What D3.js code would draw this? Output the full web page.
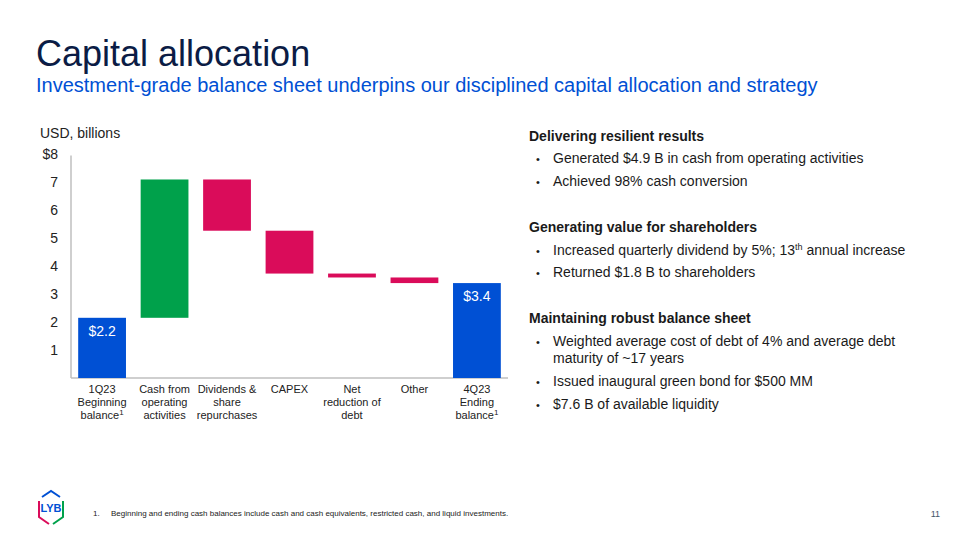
<!DOCTYPE html>
<html><head><meta charset="utf-8">
<script src="https://cdn.jsdelivr.net/npm/d3@7"></script>
<style>
html,body{margin:0;padding:0;background:#fff;}
svg{display:block;font-family:"Liberation Sans",Arial,sans-serif;}
</style></head>
<body>
<svg id="c" width="960" height="540"></svg>
<script>
// ---- data ----
const categories = ["1Q23 Beginning balance", "Cash from operating activities", "Dividends & share repurchases", "CAPEX", "Net reduction of debt", "Other", "4Q23 Ending balance"];
const categoryLines = [["1Q23","Beginning","balance"],["Cash from","operating","activities"],["Dividends &","share","repurchases"],["CAPEX"],["Net","reduction of","debt"],["Other"],["4Q23","Ending","balance"]];
const footnoteMarks = [true,false,false,false,false,false,true];
const values = [2.15, 4.94, -1.83, -1.53, -0.14, -0.2, 3.39];
const kinds = ["total","up","down","down","down","down","total"];
const valueLabels = ["$2.2", null, null, null, null, null, "$3.4"];
const yTicks = [1,2,3,4,5,6,7,8];
const yTickLabels = ["1","2","3","4","5","6","7","$8"];

const colors = {total:"#0050D4", up:"#00A14B", down:"#DA0C5A"};

const svg = d3.select("#c");

// ---- titles ----
svg.append("text").attr("x",36).attr("y",66).attr("font-size",36).attr("fill","#0B1C45").text("Capital allocation");
svg.append("text").attr("x",36).attr("y",92).attr("font-size",20).attr("fill","#0050D4").text("Investment-grade balance sheet underpins our disciplined capital allocation and strategy");

// ---- chart ----
const x = d3.scaleBand().domain(categories).range([71,508]).paddingInner(0.235).paddingOuter(0.115);
const y = d3.scaleLinear().domain([0,8]).range([378,154]);

// waterfall computation
let run = 0;
const bars = values.map((v,i)=>{
  let y0,y1;
  if(kinds[i]==="total"){ y0=0; y1=v; run=v; }
  else { y0=run; y1=run+v; run=y1; }
  return {cat:categories[i], lo:Math.min(y0,y1), hi:Math.max(y0,y1), kind:kinds[i], label:valueLabels[i]};
});

svg.append("text").attr("x",40).attr("y",138).attr("font-size",14).attr("fill","#222").text("USD, billions");

// axes lines
svg.append("line").attr("x1",71).attr("x2",71).attr("y1",y(7.95)).attr("y2",y(0)).attr("stroke","#BFBFBF").attr("stroke-width",1.5);
svg.append("line").attr("x1",71).attr("x2",508).attr("y1",y(0)).attr("y2",y(0)).attr("stroke","#BFBFBF").attr("stroke-width",1.5);

const yAxis = d3.axisLeft(y).tickValues(yTicks).tickFormat((d,i)=>yTickLabels[i]).tickSize(0).tickPadding(13);
const ga = svg.append("g").attr("transform","translate(71,0)").call(yAxis);
ga.select(".domain").remove();
ga.selectAll("text").attr("font-size",14).attr("fill","#222").attr("font-family","Liberation Sans, Arial, sans-serif");

svg.selectAll("rect.bar").data(bars).join("rect").attr("class","bar")
  .attr("x",d=>x(d.cat)).attr("width",x.bandwidth())
  .attr("y",d=>y(d.hi)).attr("height",d=>y(d.lo)-y(d.hi))
  .attr("fill",d=>colors[d.kind]);

svg.selectAll("text.vl").data(bars.filter(d=>d.label)).join("text").attr("class","vl")
  .attr("x",d=>x(d.cat)+x.bandwidth()/2).attr("y",d=>y(d.hi)+18)
  .attr("text-anchor","middle").attr("font-size",14).attr("fill","#fff").text(d=>d.label);

// category labels
categories.forEach((c,i)=>{
  const cx = x(c)+x.bandwidth()/2;
  const lines = categoryLines[i];
  const t = svg.append("text").attr("text-anchor","middle").attr("font-size",11).attr("fill","#222");
  lines.forEach((ln,j)=>{
    t.append("tspan").attr("x",cx).attr("y",393+j*13).text(ln);
    if(footnoteMarks[i] && j===lines.length-1){
      t.append("tspan").attr("font-size",8).attr("dy",-4).text("1");
    }
  });
});

// ---- right text ----
const rx = 529, bx = 536, tx = 553;
const rt = [
  {h:"Delivering resilient results", y:141},
  {b:"Generated $4.9 B in cash from operating activities", y:163},
  {b:"Achieved 98% cash conversion", y:186},
  {h:"Generating value for shareholders", y:232},
  {b:"Increased quarterly dividend by 5%; 13", sup:"th", rest:" annual increase", y:255},
  {b:"Returned $1.8 B to shareholders", y:277},
  {h:"Maintaining robust balance sheet", y:323},
  {b:"Weighted average cost of debt of 4% and average debt", y:346},
  {c:"maturity of ~17 years", y:363},
  {b:"Issued inaugural green bond for $500 MM", y:386},
  {b:"$7.6 B of available liquidity", y:409}
];
rt.forEach(r=>{
  if(r.h){ svg.append("text").attr("x",rx).attr("y",r.y).attr("font-size",14).attr("font-weight","bold").attr("fill","#1a1a1a").text(r.h); }
  else {
    if(r.b){ svg.append("text").attr("x",bx).attr("y",r.y).attr("font-size",11).attr("fill","#1a1a1a").text("•"); }
    const t = svg.append("text").attr("x",tx).attr("y",r.y).attr("font-size",14).attr("fill","#1a1a1a");
    t.append("tspan").text(r.b||r.c);
    if(r.sup){ t.append("tspan").attr("font-size",9).attr("dy",-5).text(r.sup); t.append("tspan").attr("dy",5).text(r.rest); }
  }
});

// ---- footer ----
svg.append("text").attr("x",93).attr("y",516).attr("font-size",8).attr("fill","#222").text("1.");
svg.append("text").attr("x",111).attr("y",516).attr("font-size",8).attr("fill","#222").text("Beginning and ending cash balances include cash and cash equivalents, restricted cash, and liquid investments.");
svg.append("text").attr("x",940).attr("y",517).attr("text-anchor","end").attr("font-size",9).attr("fill","#44546A").text("11");

// logo
const lg = svg.append("g").attr("transform","translate(51,507)");
lg.append("path").attr("d","M-9,-10 L0,-16 L9,-10").attr("fill","none").attr("stroke","#0050D4").attr("stroke-width",2);
lg.append("path").attr("d","M-12,-6 L-12,10 L-2,17").attr("fill","none").attr("stroke","#DA0C5A").attr("stroke-width",2);
lg.append("path").attr("d","M12,-6 L12,10 L2,17").attr("fill","none").attr("stroke","#00A14B").attr("stroke-width",2);
lg.append("text").attr("x",0).attr("y",5).attr("text-anchor","middle").attr("font-size",11).attr("font-weight","bold").attr("fill","#0050D4").text("LYB");
</script>
</body></html>
